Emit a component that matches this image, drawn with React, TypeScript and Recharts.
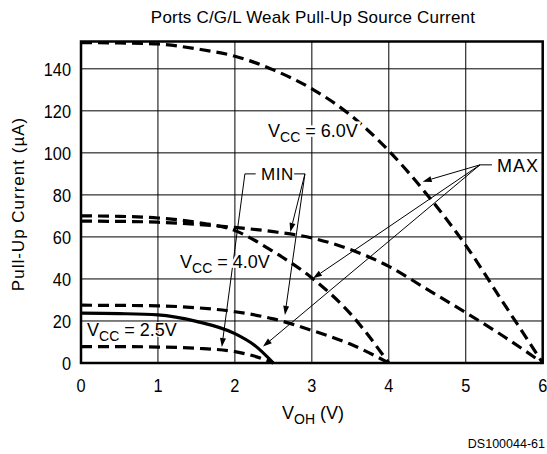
import React from "react";
import {
  CartesianGrid,
  Line,
  LineChart,
  ReferenceArea,
  ReferenceLine,
  XAxis,
  YAxis,
} from "recharts";

// [V_OH, current µA]
const vcc6Max = [
  [0, 152.5], [0.5, 152.3], [1, 151.8], [1.5, 149.5], [2, 146], [2.5, 139.5],
  [3, 130.5], [3.5, 118], [4, 101], [4.5, 80], [5, 56], [5.5, 28], [6, 0],
];
const vcc6Min = [
  [0, 67.5], [0.5, 67.4], [1, 67], [1.5, 66], [2, 64.5], [2.5, 62.5],
  [3, 59.5], [3.5, 54], [4, 46], [4.5, 35], [5, 24], [5.5, 12.5], [6, 0],
];
const vcc4Max = [
  [0, 70], [0.5, 69.8], [1, 69], [1.5, 67], [2, 63], [2.5, 53],
  [3, 40.5], [3.5, 23.5], [4, 0],
];
const vcc4Min = [
  [0, 27.5], [0.5, 27.4], [1, 27.2], [1.5, 26.3], [2, 24.4], [2.5, 21],
  [3, 15.5], [3.5, 9], [4, 0],
];
const vcc25Max = [
  [0, 23.7], [0.5, 23.5], [1, 22.9], [1.5, 19.8], [2, 14], [2.25, 8.6], [2.5, 0],
];
const vcc25Min = [
  [0, 7.8], [0.5, 7.8], [1, 7.6], [1.5, 7], [2, 5.4], [2.25, 3.3], [2.5, 0],
];

const xTicks = [0, 1, 2, 3, 4, 5, 6];
const yTicks = [0, 20, 40, 60, 80, 100, 120, 140];

// callouts: [fromX, fromY, toX, toY]
const maxArrows = [
  [5.185, 94.3, 4.44, 86.3],
  [5.185, 94.3, 3.015, 40.3],
  [5.185, 94.3, 2.365, 7.8],
];
const minArrows = [
  [2.13, 90, 1.83, 7.6],
  [2.91, 90, 2.72, 62.4],
  [2.91, 90, 2.65, 22.9],
];
const stubs = [
  [5.185, 94.3, 5.34, 94.3],
  [2.13, 90, 2.27, 90],
  [2.77, 90, 2.91, 90],
];

const toRows = (pts: number[][]) => pts.map(([v, i]) => ({ v, i }));

const FONT = "'Liberation Sans', Arial, sans-serif";

function ArrowShape(props: any) {
  const { x1, y1, x2, y2 } = props;
  const a = Math.atan2(y2 - y1, x2 - x1);
  const len = 9;
  const w = 3;
  const bx = x2 - len * Math.cos(a);
  const by = y2 - len * Math.sin(a);
  const p1 = `${bx + w * Math.sin(a)},${by - w * Math.cos(a)}`;
  const p2 = `${bx - w * Math.sin(a)},${by + w * Math.cos(a)}`;
  return (
    <g>
      <line x1={x1} y1={y1} x2={bx} y2={by} stroke="#000" strokeWidth={1} />
      <polygon points={`${x2},${y2} ${p1} ${p2}`} fill="#000" />
    </g>
  );
}

function XTick({ x, y, payload }: any) {
  return (
    <text
      transform={`translate(${x},${y + 21}) scale(0.86,1)`}
      textAnchor="middle"
      fontFamily={FONT}
      fontSize={19}
      fill="#000"
    >
      {payload.value}
    </text>
  );
}

function YTick({ x, y, payload }: any) {
  return (
    <text
      transform={`translate(${x - 2},${y + 7}) scale(0.86,1)`}
      textAnchor="end"
      fontFamily={FONT}
      fontSize={19}
      fill="#000"
    >
      {payload.value}
    </text>
  );
}

const dashed = { stroke: "#000", strokeWidth: 3.2, strokeDasharray: "11 6" };

function Vcc({ x, y, value, halo = 5 }: { x: number; y: number; value: string; halo?: number }) {
  return (
    <text
      x={x}
      y={y}
      fontFamily={FONT}
      fontSize={18}
      letterSpacing={0}
      fill="#000"
      stroke="#fff"
      strokeWidth={halo}
      paintOrder="stroke"
    >
      V
      <tspan fontSize={14} dy={5}>CC</tspan>
      <tspan dy={-5}>{` = ${value}`}</tspan>
    </text>
  );
}

export default function App() {
  return (
    <div style={{ position: "absolute", left: 0, top: 0, width: 547, height: 454, background: "#fff" }}>
      <LineChart
        width={547}
        height={454}
        margin={{ top: 41.5, right: 4.3, left: 41, bottom: 61 }}
      >
        <CartesianGrid stroke="#000" strokeWidth={1} />
        <XAxis
          type="number"
          dataKey="v"
          domain={[0, 6]}
          ticks={xTicks}
          axisLine={false}
          tickLine={false}
          height={30}
          tick={<XTick />}
          allowDuplicatedCategory={false}
        />
        <YAxis
          type="number"
          domain={[0, 153]}
          ticks={yTicks}
          axisLine={false}
          tickLine={false}
          width={40}
          tick={<YTick />}
        />
        <ReferenceArea x1={0} x2={6} y1={0} y2={153} fill="none" stroke="#000" strokeWidth={2.5} />
        {stubs.map(([a, b, c, d], k) => (
          <ReferenceLine key={`s${k}`} segment={[{ x: a, y: b }, { x: c, y: d }]} stroke="#000" strokeWidth={1} />
        ))}
        {[...maxArrows, ...minArrows].map(([a, b, c, d], k) => (
          <ReferenceLine key={`a${k}`} segment={[{ x: a, y: b }, { x: c, y: d }]} shape={ArrowShape} />
        ))}
        <Line data={toRows(vcc6Max)} dataKey="i" type="monotone" dot={false} isAnimationActive={false} {...dashed} />
        <Line data={toRows(vcc6Min)} dataKey="i" type="monotone" dot={false} isAnimationActive={false} {...dashed} />
        <Line data={toRows(vcc4Max)} dataKey="i" type="monotone" dot={false} isAnimationActive={false} {...dashed} />
        <Line data={toRows(vcc4Min)} dataKey="i" type="monotone" dot={false} isAnimationActive={false} {...dashed} />
        <Line data={toRows(vcc25Max)} dataKey="i" type="monotone" dot={false} isAnimationActive={false} stroke="#000" strokeWidth={3.2} />
        <Line data={toRows(vcc25Min)} dataKey="i" type="monotone" dot={false} isAnimationActive={false} {...dashed} />
      </LineChart>
      <svg
        width={547}
        height={454}
        style={{ position: "absolute", left: 0, top: 0, pointerEvents: "none" }}
      >
        <text x={313} y={23} textAnchor="middle" fontFamily={FONT} fontSize={17} letterSpacing={0.2} fill="#000">
          Ports C/G/L Weak Pull-Up Source Current
        </text>
        <text
          transform="translate(24,204) rotate(-90)"
          textAnchor="middle"
          fontFamily={FONT}
          fontSize={17}
          letterSpacing={1}
          fill="#000"
        >
          Pull-Up Current (µA)
        </text>
        <text x={282} y={419} fontFamily={FONT} fontSize={18} fill="#000">
          V<tspan fontSize={14} dy={5}>OH</tspan>
          <tspan dy={-5}>{"  (V)"}</tspan>
        </text>
        <Vcc x={268} y={137} value="6.0V" />
        <Vcc x={180} y={268} value="4.0V" />
        <Vcc x={87} y={336} value="2.5V" halo={2} />
        <text x={497} y={172} fontFamily={FONT} fontSize={18} letterSpacing={1} fill="#000">
          MAX
        </text>
        <text x={261} y={180} fontFamily={FONT} fontSize={17} letterSpacing={0.5} fill="#000">
          MIN
        </text>
        <text x={545} y={448} textAnchor="end" fontFamily={FONT} fontSize={12.5} fill="#000">
          DS100044-61
        </text>
      </svg>
    </div>
  );
}
